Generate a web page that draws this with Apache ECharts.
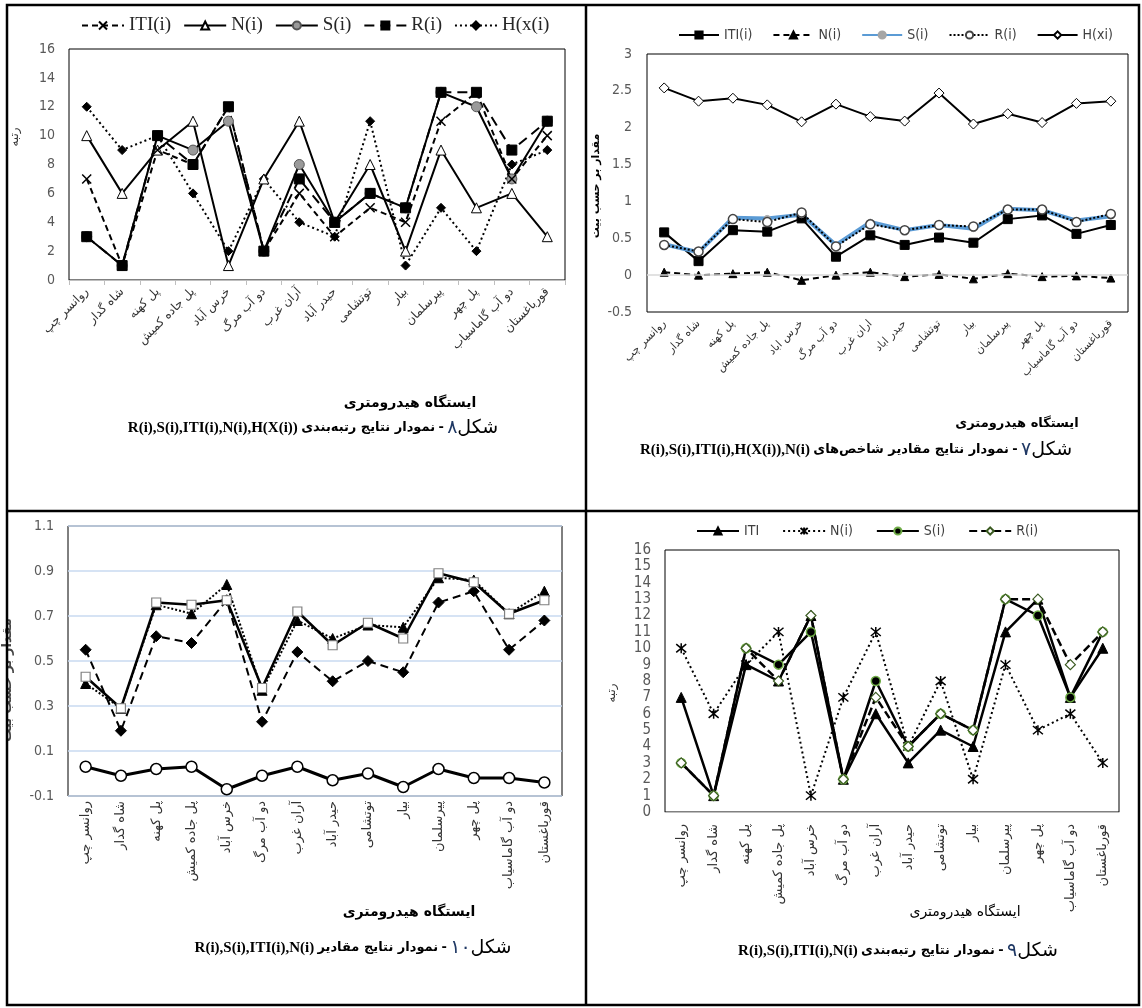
<!DOCTYPE html>
<html><head><meta charset="utf-8">
<script src="https://cdn.jsdelivr.net/npm/echarts@6/dist/echarts.min.js"></script>
<style>
html,body{margin:0;padding:0;background:#fff;}
#wrap{position:relative;width:1142px;height:1008px;background:#fff;}
.c{position:absolute;left:0;top:0;width:1142px;height:1008px;}
</style></head><body><div id="wrap">
<div id="c8" class="c"></div><div id="c7" class="c"></div><div id="c10" class="c"></div><div id="c9" class="c"></div>
</div>
<script>
// ---------- data ----------
const stations = ['روانسر چپ','شاه گدار','پل کهنه','پل جاده کمیش','خرس آباد','دو آب مرگ','آران غرب','حیدر آباد','توتشامی','بیار','پیرسلمان','پل چهر','دو آب گاماسیاب','قورباغستان'];
const stations7 = ['روانسر چپ','شاه گدار','پل کهنه','پل جاده کمیش','خرس اباد','دو آب مرگ','اران غرب','حیدر اباد','توتشامی','بیار','پیرسلمان','پل چهر','دو آب گاماسیاب','قورباغستان'];

// Figure 8 (ranks)
const rank8_ITI = [7,1,9,8,12,2,6,3,5,4,11,13,7,10];
const rank8_N   = [10,6,9,11,1,7,11,4,8,2,9,5,6,3];
const rank8_S   = [3,1,10,9,11,2,8,4,6,5,13,12,7,11];
const rank8_R   = [3,1,10,8,12,2,7,4,6,5,13,13,9,11];
const rank8_H   = [12,9,10,6,2,7,4,3,11,1,5,2,8,9];
const ticks8 = [0,16,2];

// Figure 7 (values, bit)
const val7_ITI = [0.58,0.19,0.61,0.59,0.77,0.25,0.54,0.41,0.51,0.44,0.76,0.81,0.56,0.68];
const val7_N   = [0.04,0.0,0.02,0.04,-0.07,0.0,0.04,-0.02,0.01,-0.05,0.02,-0.02,-0.01,-0.04];
const val7_S   = [0.42,0.31,0.78,0.77,0.82,0.41,0.72,0.61,0.68,0.63,0.90,0.88,0.74,0.80];
const val7_R   = [0.41,0.32,0.76,0.72,0.85,0.39,0.69,0.61,0.68,0.66,0.89,0.89,0.72,0.83];
const val7_H   = [2.54,2.36,2.40,2.31,2.08,2.32,2.15,2.09,2.47,2.05,2.19,2.07,2.33,2.36];
const ticks7 = [-0.5,3,0.5];

// Figure 10 (values)
const val10_S   = [0.43,0.29,0.76,0.75,0.77,0.38,0.72,0.57,0.67,0.60,0.89,0.85,0.71,0.77];
const val10_R   = [0.40,0.29,0.75,0.71,0.84,0.37,0.68,0.60,0.66,0.65,0.87,0.86,0.71,0.81];
const val10_ITI = [0.55,0.19,0.61,0.58,0.77,0.23,0.54,0.41,0.50,0.45,0.76,0.81,0.55,0.68];
const val10_N   = [0.03,-0.01,0.02,0.03,-0.07,-0.01,0.03,-0.03,0.0,-0.06,0.02,-0.02,-0.02,-0.04];
const ticks10 = [-0.1,1.1,0.2];

// Figure 9 (ranks)
const rank9_ITI = [7,1,9,8,12,2,6,3,5,4,11,13,7,10];
const rank9_N   = [10,6,9,11,1,7,11,4,8,2,9,5,6,3];
const rank9_S   = [3,1,10,9,11,2,8,4,6,5,13,12,7,11];
const rank9_R   = [3,1,10,8,12,2,7,4,6,5,13,13,9,11];
const ticks9 = [0,16,1];

// ---------- styling helpers ----------
const F_NUM = "'Liberation Sans Narrow','DejaVu Sans Condensed','Liberation Sans',sans-serif";
const F_FA = "'DejaVu Sans',sans-serif";
const F_SERIF = "'Liberation Serif','DejaVu Serif',serif";
const X_MARK = 'path://M0,0L10,10M10,0L0,10';
const AST = 'path://M0,0L10,10M10,0L0,10M5,-1L5,11';

function txt(x,y,text,size,weight,color,rot,family){
  return {type:'text', x:x, y:y, rotation:rot||0, z:50,
    style:{text:text, fontSize:size, fontWeight:weight||'normal', fontFamily:family||F_FA, fill:color||'#000',
      align:'center', verticalAlign:'middle', textAlign:'center', textVerticalAlign:'middle'}};
}
function caption(x,y,latin,persian,num){
  const rich = {
    l:{fontFamily:F_SERIF,fontWeight:'bold',fontSize:15,fill:'#000',color:'#000'},
    p:{fontFamily:F_FA,fontWeight:'bold',fontSize:13,fill:'#000',color:'#000'},
    n:{fontFamily:F_FA,fontWeight:'normal',fontSize:19,fill:'#1f3864',color:'#1f3864'},
    s:{fontFamily:F_FA,fontWeight:'normal',fontSize:19,fill:'#000',color:'#000'}
  };
  return {type:'text', x:x, y:y, z:50,
    style:{text:'{l|'+latin+'} {p|'+persian+'} {p|-} {n|'+num+'}{s|شکل}', rich:rich,
      align:'center', verticalAlign:'middle', textAlign:'center', textVerticalAlign:'middle'}};
}
function line(name,data,o){
  return Object.assign({type:'line', name:name, data:data, symbolSize:o.size||9, symbol:o.symbol,
    lineStyle:{color:o.lc||'#000', width:o.lw||2, type:o.dash||'solid'},
    itemStyle:{color:o.fill||'#000', borderColor:o.bc||'#000', borderWidth:o.bw||1},
    emphasis:{disabled:true}, z:o.z||2}, o.extra||{});
}
function valAxis(t, size, margin, color){
  return {type:'value', min:t[0], max:t[1], interval:t[2],
    axisLine:{show:false}, axisTick:{show:false}, splitLine:{show:false},
    axisLabel:{fontFamily:F_NUM, fontSize:size, color:color||'#595959', margin:margin}};
}
function catAxis(data, rot, size, margin, lineColor, ticks){
  return {type:'category', data:data, boundaryGap:true,
    axisLine:{show:!!lineColor, lineStyle:{color:lineColor||'#000', width:1}},
    axisTick:{show:!!ticks, length:5, lineStyle:{color:'#bfbfbf'}},
    axisLabel:{rotate:rot, interval:0, fontFamily:F_FA, fontSize:size, color:'#333', margin:margin}};
}

// ---------- Figure 8 ----------
const ch8 = echarts.init(document.getElementById('c8'), null, {renderer:'canvas'});
ch8.setOption({
  animation:false,
  legend:{left:76, top:11, itemWidth:42, itemHeight:10, itemGap:12,
    textStyle:{fontFamily:F_SERIF, fontSize:19, color:'#262626'},
    data:['ITI(i)','N(i)','S(i)','R(i)','H(x(i)']},
  grid:{left:69, top:49, width:496, height:231, show:true, borderColor:'#000', borderWidth:1},
  xAxis:catAxis(stations,45,12,10,'#bfbfbf',true),
  yAxis:valAxis(ticks8,14,14),
  graphic:[
    txt(15,137,'رتبه',12,'normal','#333',Math.PI/2),
    txt(410,403,'ایستگاه هیدرومتری',14,'bold','#000'),
    caption(313,428,'R(i),S(i),ITI(i),N(i),H(X(i))','نمودار نتایج رتبه‌بندی','۸')
  ],
  series:[
    line('H(x(i)',rank8_H,{symbol:'diamond',size:9,dash:[2,3],lw:2}),
    line('N(i)',rank8_N,{symbol:'triangle',size:10,fill:'#fff',bc:'#000',lw:2}),
    line('S(i)',rank8_S,{symbol:'circle',size:10,fill:'#9a9a9a',bc:'#555',lw:2}),
    line('ITI(i)',rank8_ITI,{symbol:X_MARK,size:9,fill:'none',bc:'#000',bw:1.5,dash:[6,4],lw:2}),
    line('R(i)',rank8_R,{symbol:'rect',size:10,dash:[10,6],lw:2})
  ]
});

// ---------- Figure 7 ----------
const ch7 = echarts.init(document.getElementById('c7'), null, {renderer:'canvas'});
ch7.setOption({
  animation:false,
  legend:{left:673, top:23, itemWidth:40, itemHeight:9, itemGap:20,
    textStyle:{fontFamily:F_NUM, fontSize:14, color:'#404040'},
    data:['ITI(i)','N(i)','S(i)','R(i)','H(xi)']},
  grid:{left:647, top:54, width:481, height:258, show:true, borderColor:'#000', borderWidth:1},
  xAxis:catAxis(stations7,45,11,10,null,false),
  yAxis:valAxis(ticks7,14,15),
  graphic:[
    txt(596,186,'مقدار بر حسب بیت',11,'bold','#000',Math.PI/2),
    txt(1017,424,'ایستگاه هیدرومتری',13,'bold','#000'),
    caption(856,450,'R(i),S(i),ITI(i),H(X(i)),N(i)','نمودار نتایج مقادیر شاخص‌های','۷')
  ],
  series:[
    line('N(i)',val7_N,{symbol:'triangle',size:8,dash:[6,4],lw:2,
      extra:{markLine:{silent:true,symbol:'none',label:{show:false},lineStyle:{color:'#d9d9d9',width:1.5,type:'solid'},data:[{yAxis:0}]}}}),
    line('H(xi)',val7_H,{symbol:'diamond',size:10,fill:'#fff',bc:'#000',lw:2}),
    line('ITI(i)',val7_ITI,{symbol:'rect',size:9,lw:2}),
    line('S(i)',val7_S,{symbol:'circle',size:6,fill:'#a6a6a6',bc:'#a6a6a6',lc:'#5b9bd5',lw:4}),
    line('R(i)',val7_R,{symbol:'circle',size:9,fill:'#fff',bc:'#444',bw:1.5,dash:[2,2],lw:2})
  ]
});

// ---------- Figure 10 ----------
const ch10 = echarts.init(document.getElementById('c10'), null, {renderer:'canvas'});
const y10 = valAxis(ticks10,14,14);
y10.splitLine = {show:true, lineStyle:{color:'#c9daf0', width:1.5}};
ch10.setOption({
  animation:false,
  grid:{left:68, top:526, width:494, height:270, show:true, borderColor:'#000', borderWidth:1},
  xAxis:catAxis(stations,90,13,5,null,false),
  yAxis:y10,
  graphic:[
    txt(8,680,'مقدار بر حسب بیت',13,'bold','#444',Math.PI/2),
    txt(409,912,'ایستگاه هیدرومتری',14,'bold','#000'),
    caption(353,948,'R(i),S(i),ITI(i),N(i)','نمودار نتایج مقادیر','۱۰')
  ],
  series:[
    line('ITI(i)',val10_ITI,{symbol:'diamond',size:11,dash:[8,5],lw:2}),
    line('R(i)',val10_R,{symbol:'triangle',size:10,dash:[2,2],lw:2}),
    line('S(i)',val10_S,{symbol:'rect',size:9,fill:'#fff',bc:'#808080',bw:1.2,lw:2.5}),
    line('N(i)',val10_N,{symbol:'circle',size:11,fill:'#fff',bc:'#000',bw:1.5,lw:3})
  ]
});

// ---------- Figure 9 ----------
const ch9 = echarts.init(document.getElementById('c9'), null, {renderer:'canvas'});
ch9.setOption({
  animation:false,
  legend:{left:691, top:519, itemWidth:42, itemHeight:9, itemGap:23,
    textStyle:{fontFamily:F_NUM, fontSize:14, color:'#404040'},
    data:['ITI','N(i)','S(i)','R(i)']},
  grid:{left:665, top:550, width:454, height:262, show:true, borderColor:'#000', borderWidth:1},
  xAxis:catAxis(stations,90,13,12,'#bfbfbf',false),
  yAxis:valAxis(ticks9,15,14),
  graphic:[
    txt(612,693,'رتبه',12,'normal','#333',Math.PI/2),
    txt(965,912,'ایستگاه هیدرومتری',14,'normal','#000'),
    caption(898,951,'R(i),S(i),ITI(i),N(i)','نمودار نتایج رتبه‌بندی','۹'),
    // table borders
    {type:'rect', z:100, shape:{x:7,y:5,width:1132,height:1000}, style:{fill:'none',stroke:'#000',lineWidth:2.5}},
    {type:'line', z:100, shape:{x1:586,y1:5,x2:586,y2:1005}, style:{stroke:'#000',lineWidth:2.5}},
    {type:'line', z:100, shape:{x1:7,y1:511,x2:1139,y2:511}, style:{stroke:'#000',lineWidth:2.5}}
  ],
  series:[
    line('N(i)',rank9_N,{symbol:AST,size:10,fill:'none',bc:'#000',bw:1.5,dash:[2,3],lw:2}),
    line('ITI',rank9_ITI,{symbol:'triangle',size:10,lw:2.5}),
    line('S(i)',rank9_S,{symbol:'circle',size:9,fill:'#000',bc:'#70ad47',bw:1.5,lw:2.5}),
    line('R(i)',rank9_R,{symbol:'diamond',size:10,fill:'#fff',bc:'#3a5a20',bw:1.2,dash:[8,4],lw:2.5})
  ]
});
</script></body></html>
